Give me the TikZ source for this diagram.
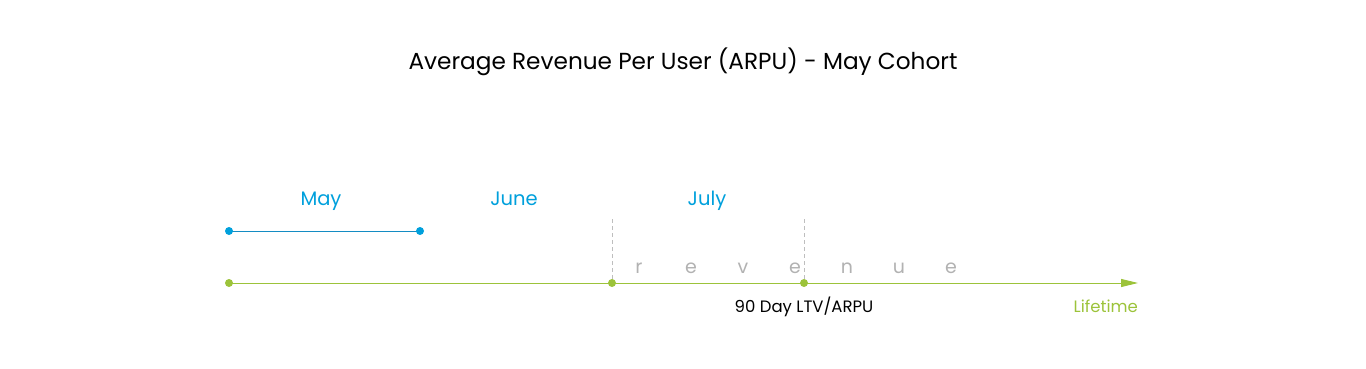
\documentclass[tikz,border=0pt]{standalone}
\usepackage{fontspec}
\setmainfont{Poppins}
\usetikzlibrary{arrows.meta}
\definecolor{MonthBlue}{RGB}{0,160,220}
\definecolor{LineBlue}{RGB}{20,140,195}
\definecolor{AxisGreen}{RGB}{156,195,58}
\definecolor{RevGray}{RGB}{178,178,178}
\definecolor{DashGray}{RGB}{190,190,190}

\begin{document}
\begin{tikzpicture}[x=1pt,y=-1pt]
\def\ptsize{4}
\useasboundingbox (0,0) rectangle (1366,369);
\node[anchor=base] (title) at (683,70) {\fontsize{23.2}{27}\selectfont Average Revenue Per User (ARPU) - May Cohort};

% months
\node[MonthBlue,anchor=base] (may) at (321,205) {\fontsize{19.5}{23}\selectfont May};
\node[MonthBlue,anchor=base] (june) at (514,205) {\fontsize{19.5}{23}\selectfont June};
\node[MonthBlue,anchor=base] (july) at (707,205) {\fontsize{19.5}{23}\selectfont July};

% cohort span
\coordinate (maystart) at (229,231);
\coordinate (mayend) at (420,231);
\draw[LineBlue,line width=.8pt] (maystart) -- (mayend);
\fill[MonthBlue] (maystart) circle (\ptsize);
\fill[MonthBlue] (mayend) circle (\ptsize);

% time axis
\coordinate (origin) at (229,283);
\coordinate (day60) at (612,283);
\coordinate (day90) at (804,283);
\coordinate (tip) at (1138,283);
\coordinate (top60) at (612,219);
\coordinate (top90) at (804,219);
\draw[DashGray,dashed,dash pattern=on 4pt off 3pt,line width=.7pt] (top60) -- (day60);
\draw[DashGray,dashed,dash pattern=on 4pt off 3pt,line width=.7pt] (top90) -- (day90);
\draw[AxisGreen,line width=.9pt,-{Triangle[length=17pt,width=8pt]}] (origin) -- (tip);
\fill[AxisGreen] (origin) circle (\ptsize);
\fill[AxisGreen] (day60) circle (\ptsize);
\fill[AxisGreen] (day90) circle (\ptsize);

% spaced-out word
\foreach \ch [count=\i from 0] in {r,e,v,e,n,u,e}
  \node[RevGray,anchor=base] (rev\i) at ({639+52*\i},273) {\fontsize{19}{22}\selectfont\ch};

\node[anchor=base] (ltv) at (804,312) {\fontsize{16.5}{20}\selectfont 90 Day LTV/ARPU};
\node[AxisGreen,anchor=base east,inner sep=0pt] (life) at (tip |- ltv.base) {\fontsize{16.5}{20}\selectfont Lifetime};
\end{tikzpicture}
\end{document}
